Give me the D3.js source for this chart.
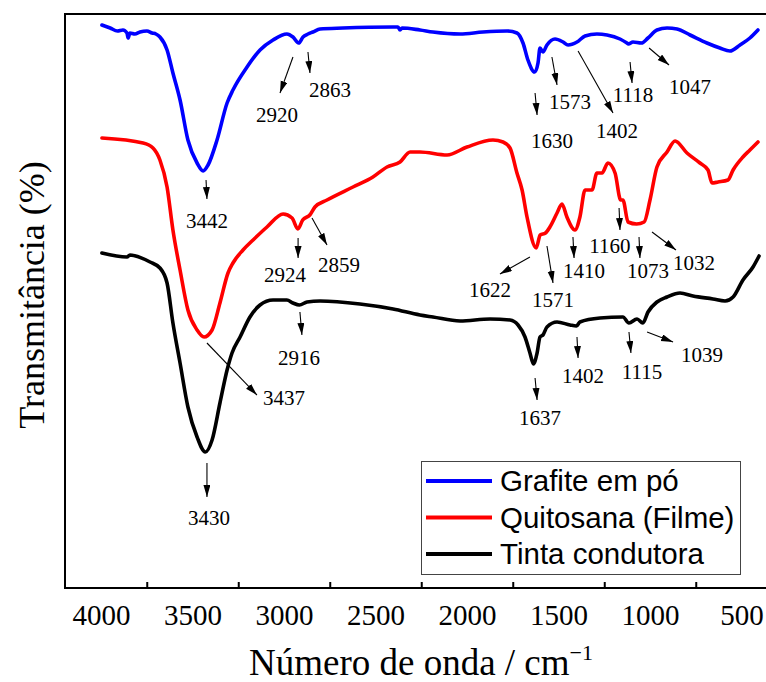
<!DOCTYPE html>
<html>
<head>
<meta charset="utf-8">
<script src="https://cdn.jsdelivr.net/npm/d3@7/dist/d3.min.js"></script>
<style>
  body { margin: 0; background: #fff; }
  svg { display: block; }
</style>
</head>
<body>
<script>
// FTIR spectra: wavenumber (cm^-1) and transmittance (offset, arbitrary units)
const grafiteWn = [3995, 3950, 3910, 3880, 3858, 3852, 3842, 3815, 3787, 3749, 3721, 3700, 3678, 3639, 3607, 3568, 3525, 3475, 3442, 3415, 3366, 3311, 3279, 3202, 3131, 3060, 2984, 2951, 2920, 2896, 2869, 2842, 2803, 2678, 2404, 2377, 2366, 2355, 2257, 2186, 2038, 1913, 1781, 1727, 1694, 1667, 1630, 1612, 1601, 1585, 1563, 1519, 1475, 1448, 1399, 1355, 1290, 1235, 1164, 1126, 1118, 1093, 1047, 1011, 962, 907, 852, 781, 689, 618, 563, 508, 454, 410];
const grafiteT  = [112.6, 112.0, 111.4, 111.6, 111.0, 110.0, 111.0, 110.8, 111.2, 111.4, 111.0, 110.8, 110.2, 107.6, 103.0, 97.6, 89.6, 85.0, 83.4, 84.6, 89.6, 97.0, 99.6, 104.2, 107.6, 109.6, 110.8, 110.2, 109.0, 110.2, 110.8, 111.2, 111.8, 112.0, 112.2, 112.2, 111.6, 112.0, 111.6, 111.2, 110.8, 111.2, 111.4, 111.0, 109.0, 105.6, 103.2, 105.0, 108.0, 107.2, 108.6, 109.8, 109.2, 108.6, 109.2, 110.4, 110.8, 110.6, 109.8, 109.0, 108.8, 109.2, 109.0, 110.0, 111.6, 112.0, 111.8, 110.6, 109.0, 108.0, 107.4, 108.6, 110.0, 111.6];

const quitosanaWn = [3995, 3770, 3716, 3678, 3639, 3607, 3568, 3525, 3475, 3437, 3393, 3350, 3306, 3279, 3224, 3169, 3093, 3005, 2956, 2924, 2898, 2859, 2831, 2765, 2623, 2514, 2437, 2366, 2311, 2257, 2109, 2000, 1858, 1803, 1765, 1727, 1699, 1672, 1622, 1600, 1571, 1547, 1508, 1481, 1454, 1410, 1383, 1355, 1317, 1290, 1262, 1230, 1191, 1160, 1148, 1120, 1073, 1032, 1000, 962, 907, 863, 798, 727, 683, 661, 628, 574, 546, 492, 454, 410];
const quitosanaT  = [90.0, 89.0, 88.0, 85.6, 80.2, 71.6, 63.6, 55.6, 51.6, 50.2, 51.6, 57.0, 63.0, 65.0, 67.6, 69.6, 72.2, 74.8, 74.0, 71.8, 73.6, 74.6, 76.2, 77.6, 80.2, 82.2, 84.2, 85.2, 87.2, 87.2, 86.6, 88.2, 89.6, 89.2, 88.0, 83.0, 79.6, 74.2, 68.0, 70.6, 71.0, 72.2, 75.0, 76.8, 74.2, 71.6, 74.2, 79.6, 79.6, 83.0, 83.0, 85.0, 83.0, 77.6, 77.6, 73.2, 72.8, 73.2, 77.6, 84.2, 87.2, 89.4, 87.0, 85.0, 83.6, 81.0, 81.2, 81.6, 83.6, 86.2, 87.6, 89.2];

const tintaWn = [3995, 3858, 3842, 3732, 3678, 3639, 3607, 3568, 3525, 3475, 3430, 3393, 3350, 3311, 3284, 3240, 3186, 3131, 3060, 2984, 2951, 2916, 2874, 2803, 2585, 2404, 2257, 2186, 2038, 1874, 1765, 1721, 1683, 1656, 1637, 1617, 1601, 1585, 1563, 1508, 1437, 1402, 1383, 1273, 1148, 1115, 1071, 1039, 1011, 962, 907, 836, 765, 656, 590, 546, 492, 437, 404];
const tintaT  = [67.0, 66.2, 66.6, 65.2, 64.0, 61.0, 53.0, 45.0, 36.2, 30.2, 27.2, 29.6, 37.0, 43.6, 47.0, 50.2, 54.2, 56.6, 57.6, 57.6, 57.0, 56.6, 57.2, 57.4, 56.8, 55.8, 54.6, 54.2, 53.4, 53.8, 53.6, 52.6, 50.2, 47.0, 44.8, 47.0, 50.2, 50.6, 52.2, 53.2, 52.6, 52.4, 53.2, 54.0, 54.2, 53.0, 53.8, 53.0, 55.2, 57.2, 58.2, 59.0, 58.4, 57.8, 57.4, 58.2, 61.6, 64.2, 66.4];

const seriesNames  = ["Grafite em pó", "Quitosana (Filme)", "Tinta condutora"];
const seriesColors = ["#0000ff", "#ff0000", "#000000"];

// Axis labels
const xTickValues = [4000, 3500, 3000, 2500, 2000, 1500, 1000, 500];
const xMinorTicks = [3750, 3250, 2750, 2250, 1750, 1250, 750];
const xTitle = "Número de onda / cm";
const xTitleSup = "\u22121";
const yTitle = "Transmitância (%)";

// Peak annotations: [text, tail wn, tail T, head wn, head T, label wn, label T]
const grafitePeaks = [
  ["3442", 3426, 81.6, 3421, 77.8, 3421, 72.0],
  ["2920", 2951, 106.2, 3022, 99.0, 3038, 93.2],
  ["2863", 2869, 107.2, 2858, 103.0, 2749, 98.2],
  ["1630", 1628, 99.0, 1617, 94.6, 1536, 88.0],
  ["1573", 1536, 106.2, 1508, 100.6, 1437, 95.8],
  ["1402", 1393, 107.4, 1202, 95.0, 1180, 90.0],
  ["1118", 1109, 105.2, 1098, 101.0, 1093, 97.2],
  ["1047", 1005, 108.0, 896, 104.6, 781, 98.8]
];
const quitosanaPeaks = [
  ["3437", 3421, 49.0, 3148, 38.6, 3000, 36.6],
  ["2924", 2923, 70.0, 2923, 66.0, 2995, 61.2],
  ["2859", 2847, 74.0, 2765, 68.6, 2699, 63.2],
  ["1622", 1656, 66.2, 1820, 62.8, 1874, 58.2],
  ["1571", 1563, 68.4, 1530, 61.0, 1530, 56.2],
  ["1410", 1421, 70.2, 1415, 66.0, 1361, 62.0],
  ["1160", 1169, 76.0, 1164, 71.6, 1219, 67.0],
  ["1073", 1060, 70.2, 1055, 66.0, 1011, 62.0],
  ["1032", 989, 71.2, 858, 67.6, 760, 63.6]
];
const tintaPeaks = [
  ["3430", 3421, 25.0, 3421, 18.2, 3410, 12.6],
  ["2916", 2913, 55.2, 2902, 50.6, 2918, 44.6],
  ["1637", 1628, 42.0, 1617, 37.6, 1601, 32.6],
  ["1402", 1399, 50.2, 1393, 46.0, 1366, 41.0],
  ["1115", 1115, 51.2, 1104, 47.0, 1044, 41.8],
  ["1039", 1016, 51.2, 874, 49.2, 716, 45.2]
];

const W = 766, H = 682;
const plot = { left: 65, top: 14, bottom: 588, right: 790 };

const x = d3.scaleLinear().domain([4000, 500]).range([101, 741.5]);
const y = d3.scaleLinear().domain([0, 114.8]).range([plot.bottom, plot.top]);

const serif = "'Liberation Serif', 'Times New Roman', serif";
const sans = "'Liberation Sans', Arial, sans-serif";

const svg = d3.select("body").append("svg")
  .attr("width", W).attr("height", H)
  .attr("viewBox", `0 0 ${W} ${H}`);

svg.append("defs").append("marker")
  .attr("id", "arrowhead")
  .attr("markerUnits", "userSpaceOnUse")
  .attr("markerWidth", 12).attr("markerHeight", 8)
  .attr("refX", 12).attr("refY", 3.5)
  .attr("orient", "auto")
  .append("path").attr("d", "M0,0L12,3.5L0,7Z").attr("fill", "#000");

// Spectra
const series = [
  { wn: grafiteWn, t: grafiteT },
  { wn: quitosanaWn, t: quitosanaT },
  { wn: tintaWn, t: tintaT }
];
const line = d3.line()
  .x(d => x(d[0])).y(d => y(d[1]))
  .curve(d3.curveMonotoneX);

series.forEach((s, i) => {
  const pts = s.wn.map((w, k) => [w, s.t[k]]);
  svg.append("path")
    .datum(pts)
    .attr("d", line)
    .attr("fill", "none")
    .attr("stroke", seriesColors[i])
    .attr("stroke-width", 3.6)
    .attr("stroke-linejoin", "round")
    .attr("stroke-linecap", "round");
});

// Peak annotations
[grafitePeaks, quitosanaPeaks, tintaPeaks].forEach(group => {
  group.forEach(a => {
    svg.append("line")
      .attr("x1", x(a[1])).attr("y1", y(a[2]))
      .attr("x2", x(a[3])).attr("y2", y(a[4]))
      .attr("stroke", "#000").attr("stroke-width", 1.1)
      .attr("marker-end", "url(#arrowhead)");
    svg.append("text")
      .attr("x", x(a[5])).attr("y", y(a[6]))
      .attr("text-anchor", "middle")
      .style("font-family", serif)
      .style("font-size", "21px")
      .attr("fill", "#000")
      .text(a[0]);
  });
});

// Frame
const frame = svg.append("g").attr("stroke", "#000").attr("stroke-width", 2).attr("fill", "none");
frame.append("path").attr("d", `M${plot.right},${plot.top}H${plot.left}V${plot.bottom}H${plot.right}`);

// Bottom axis: labels at the major values, tick marks at the minor values
const xAxisLabels = d3.axisBottom(x).tickValues(xTickValues).tickSize(0).tickFormat(d3.format("d"));
const gx = svg.append("g").attr("transform", `translate(0,${plot.bottom})`).call(xAxisLabels)
  .attr("font-family", null).attr("font-size", null);
gx.select(".domain").remove();
gx.selectAll("text")
  .attr("y", 37).attr("dy", 0)
  .style("font-family", serif)
  .style("font-size", "29px")
  .attr("fill", "#000");

const xAxisMinor = d3.axisBottom(x).tickValues(xMinorTicks).tickSize(-6).tickFormat("");
const gm = svg.append("g").attr("transform", `translate(0,${plot.bottom})`).call(xAxisMinor);
gm.select(".domain").remove();
gm.selectAll("line").attr("stroke", "#000").attr("stroke-width", 2);

// Axis titles
const xt = svg.append("text")
  .attr("x", 421).attr("y", 675)
  .attr("text-anchor", "middle")
  .style("font-family", serif)
  .style("font-size", "37px")
  .attr("fill", "#000");
xt.append("tspan").text(xTitle);
xt.append("tspan").attr("dy", -15).style("font-size", "22px").text(xTitleSup);

svg.append("text")
  .attr("transform", "translate(44,295) rotate(-90)")
  .attr("text-anchor", "middle")
  .style("font-family", serif)
  .style("font-size", "36px")
  .attr("fill", "#000")
  .text(yTitle);

// Legend
const lg = svg.append("g");
lg.append("rect")
  .attr("x", 421.5).attr("y", 461.5).attr("width", 319).attr("height", 113)
  .attr("fill", "#fff").attr("stroke", "#444").attr("stroke-width", 1);
seriesNames.forEach((name, i) => {
  const cy = 481 + i * 36.5;
  lg.append("line")
    .attr("x1", 426).attr("x2", 492).attr("y1", cy).attr("y2", cy)
    .attr("stroke", seriesColors[i]).attr("stroke-width", 4);
  lg.append("text")
    .attr("x", 500).attr("y", cy + 10)
    .style("font-family", sans)
    .style("font-size", "29.5px")
    .attr("fill", "#000")
    .text(name);
});
</script>
</body>
</html>
